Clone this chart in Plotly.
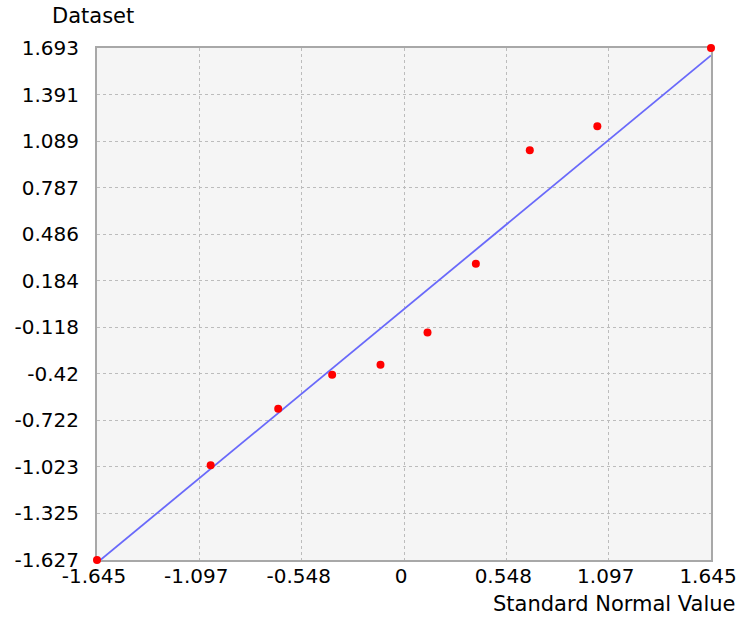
import plotly.graph_objects as go

# Standard normal quantiles (x) and ordered dataset values (y)
normal_values = [-1.645, -1.036, -0.674, -0.385, -0.126, 0.126, 0.385, 0.674, 1.036, 1.645]
dataset_values = [-1.627, -1.012, -0.647, -0.426, -0.361, -0.152, 0.294, 1.030, 1.186, 1.693]

# Reference line endpoints (y = x)
line_x = [-1.645, 1.645]
line_y = [-1.645, 1.645]

x_ticks = [-1.645, -1.097, -0.548, 0, 0.548, 1.097, 1.645]
x_tick_labels = ["-1.645", "-1.097", "-0.548", "0", "0.548", "1.097", "1.645"]
y_ticks = [1.693, 1.391, 1.089, 0.787, 0.486, 0.184, -0.118, -0.42, -0.722, -1.023, -1.325, -1.627]
y_tick_labels = ["1.693", "1.391", "1.089", "0.787", "0.486", "0.184", "-0.118", "-0.42",
                 "-0.722", "-1.023", "-1.325", "-1.627"]

FONT = "DejaVu Sans"
TICK_FS = 20
TITLE_FS = 21

W, H = 740, 617
L, T = 97, 48
PW, PH = 614, 512
R = W - L - PW
B = H - T - PH

fig = go.Figure()
fig.add_trace(go.Scatter(
    x=line_x, y=line_y, mode="lines",
    line=dict(color="rgb(105,105,250)", width=1.8),
    hoverinfo="skip", showlegend=False,
))
fig.add_trace(go.Scatter(
    x=normal_values, y=dataset_values, mode="markers",
    marker=dict(color="red", size=8, line=dict(width=0)),
    cliponaxis=False, showlegend=False,
))

axis_common = dict(
    showgrid=True, gridcolor="#bcbcbc", griddash="dot", gridwidth=1,
    zeroline=False, showline=True, mirror=True, linecolor="#a8a8a8", linewidth=2,
    ticks="", layer="below traces", ticklabeloverflow="allow", automargin=False,
    tickfont=dict(family=FONT, size=TICK_FS, color="black"),
    tickmode="array",
)

fig.update_xaxes(range=[-1.645, 1.645], tickvals=x_ticks, ticktext=x_tick_labels,
                 ticklabelstandoff=-3, ticklabelshift=-3, **axis_common)
fig.update_yaxes(range=[-1.627, 1.693], tickvals=y_ticks, ticktext=y_tick_labels,
                 ticklabelstandoff=12, **axis_common)

fig.update_layout(
    width=W, height=H,
    margin=dict(l=L, r=R, t=T, b=B, autoexpand=False),
    paper_bgcolor="white", plot_bgcolor="#f5f5f5",
    font=dict(family=FONT, size=TICK_FS, color="black"),
    annotations=[
        dict(text="Dataset", xref="paper", yref="paper", x=(50 - L) / PW, y=1 + 32 / PH,
             xanchor="left", yanchor="middle", showarrow=False,
             font=dict(family=FONT, size=TITLE_FS, color="black")),
        dict(text="Standard Normal Value", xref="paper", yref="paper", x=1 + 27 / PW, y=-44 / PH,
             xanchor="right", yanchor="middle", showarrow=False,
             font=dict(family=FONT, size=TITLE_FS, color="black")),
    ],
)

fig.write_html("out.html", config={"displayModeBar": False},
               post_script="document.body.style.margin='0px';")
